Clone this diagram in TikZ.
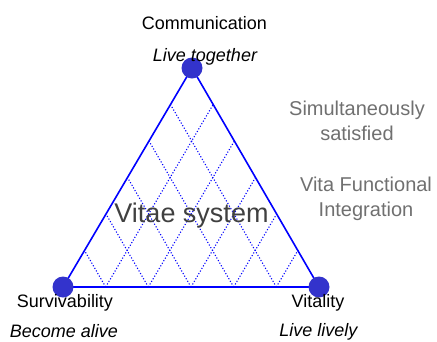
\documentclass[tikz,border=0pt]{standalone}
\usepackage{fontspec}
\setmainfont{Liberation Sans}
\usepackage{xcolor}
\usetikzlibrary{positioning, calc}
\definecolor{dotblue}{RGB}{51,51,204}
\definecolor{softgrey}{RGB}{112,112,112}
\definecolor{deepgrey}{RGB}{64,64,64}

\begin{document}
\begin{tikzpicture}[x=1pt, y=-1pt,
        side/.style={draw=blue, line width=1.6pt, line join=round},
        gridline/.style={draw=blue, line width=1.1pt, dash pattern=on 1.1pt off 1.9pt},
        vertex/.style={circle, fill=dotblue, inner sep=0pt, minimum size=21pt},
        vname/.style={anchor=base, inner sep=0pt, font=\fontsize{18}{20}\selectfont},
        vmotto/.style={anchor=base, inner sep=0pt, font=\fontsize{18}{20}\selectfont\itshape},
        aside/.style={anchor=base, inner sep=0pt, text=softgrey, font=\fontsize{20}{24}\selectfont}]
                    \useasboundingbox (0,0) rectangle (437,341);

                    \coordinate (Top) at (192,68);
                    \coordinate (Left) at (63,287);
                    \coordinate (Right) at (319,287);

                    % dotted grid inside the triangle
                    \foreach \k in {1,...,5} {
                        \draw[gridline] ($(Left)!\k/6!(Right)$) -- ($(Left)!\k/6!(Top)$);
                        \draw[gridline] ($(Left)!\k/6!(Right)$) -- ($(Right)!{1-\k/6}!(Top)$);
                    }

                    \node[anchor=base, inner sep=0pt, text=deepgrey, font=\fontsize{27}{30}\selectfont] (Centro) at (191.5,222.7) {Vitae system};

                    \draw[side] (Top) -- (Left) -- (Right) -- cycle;

                    \node[vertex] (TopDot) at (Top) {};
                    \node[vertex] (LeftDot) at (Left) {};
                    \node[vertex] (RightDot) at (Right) {};

                    \node[vname] (Comm) at (204.5,29.7) {Communication};
                    \node[vmotto] (CommMotto) at (205,61) {Live together};
                    \node[vname] (Surv) at (65,307) {Survivability};
                    \node[vmotto] (SurvMotto) at (64,337) {Become alive};
                    \node[vname] (Vital) at (318,307) {Vitality};
                    \node[vmotto] (VitalMotto) at (318.5,336.5) {Live lively};

                    \node[aside] (Simul1) at (357,115) {Simultaneously};
                    \node[aside] (Simul2) at (357,140.7) {satisfied};
                    \node[aside] (Integ1) at (366,191.7) {Vita Functional};
                    \node[aside] (Integ2) at (366,216) {Integration};
                \end{tikzpicture}
\end{document}
